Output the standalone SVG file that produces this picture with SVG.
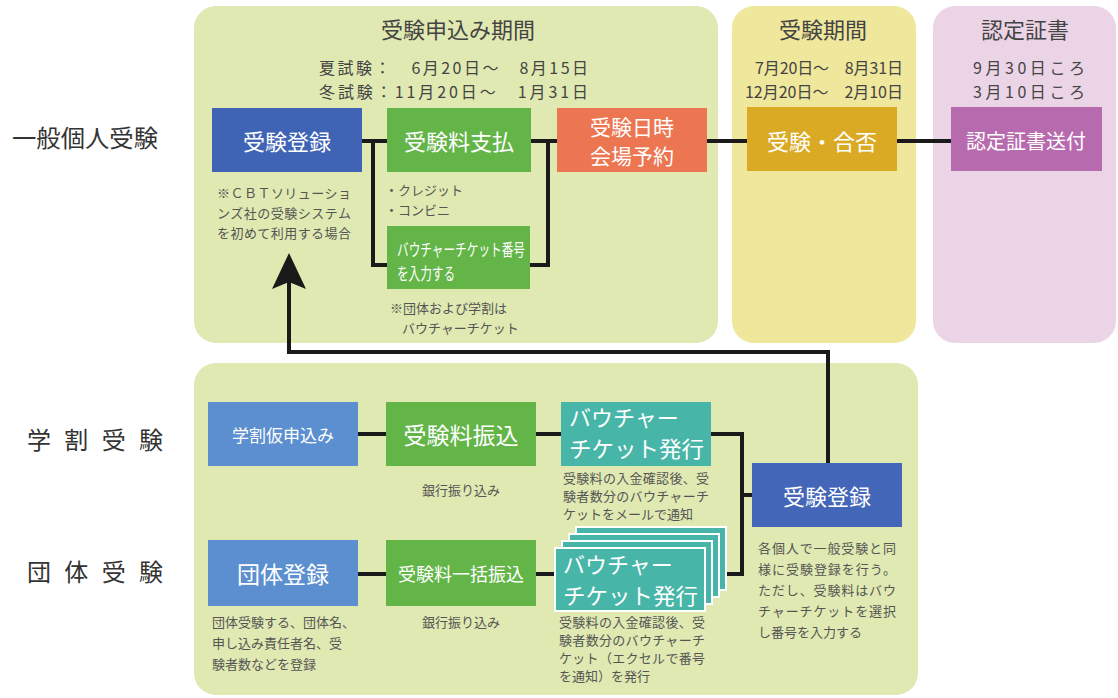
<svg xmlns="http://www.w3.org/2000/svg" width="1118" height="698" viewBox="0 0 1118 698">
<style>
text{font-family:"Noto Sans CJK JP","Noto Sans",sans-serif}
.lbl{font-size:24px;fill:#333}
.hd{font-size:22px;fill:#444;text-anchor:middle}
.dt{font-size:16px;fill:#444}
.nt{fill:#fff;text-anchor:middle;dominant-baseline:central}
.note{font-size:13px;fill:#555}
.ln{fill:none;stroke:#1a1a1a;stroke-width:4}
.stk{stroke:#fff;stroke-width:2}
</style>
<rect width="1118" height="698" fill="#fff"/>
<!-- panels -->
<rect x="194" y="6" width="524" height="337" rx="22" fill="#dfe9b1"/>
<rect x="732" y="6" width="184" height="337" rx="22" fill="#efe79b"/>
<rect x="933" y="6" width="183" height="337" rx="22" fill="#ecd4e7"/>
<rect x="194" y="363" width="724" height="332" rx="22" fill="#dfe9b1"/>
<!-- row labels -->
<text class="lbl" x="12" y="147" textLength="146" lengthAdjust="spacingAndGlyphs">一般個人受験</text>
<text class="lbl" x="27" y="449" textLength="136" lengthAdjust="spacing">学 割 受 験</text>
<text class="lbl" x="27" y="581" textLength="136" lengthAdjust="spacing">団 体 受 験</text>
<!-- headers -->
<text class="hd" x="458" y="38">受験申込み期間</text>
<text class="dt" x="319" y="74" textLength="269" lengthAdjust="spacing">夏試験：　6月20日～　8月15日</text>
<text class="dt" x="319" y="98" textLength="269" lengthAdjust="spacing">冬試験：11月20日～　1月31日</text>
<text class="hd" x="823" y="38">受験期間</text>
<text class="dt" x="755" y="74" textLength="148" lengthAdjust="spacing">7月20日～　8月31日</text>
<text class="dt" x="745" y="98" textLength="158" lengthAdjust="spacing">12月20日～　2月10日</text>
<text class="hd" x="1025" y="38">認定証書</text>
<text class="dt" x="973" y="74" textLength="112" lengthAdjust="spacing">9月30日ころ</text>
<text class="dt" x="973" y="98" textLength="112" lengthAdjust="spacing">3月10日ころ</text>
<!-- connectors -->
<g id="connectors">
<path class="ln" d="M362 141 H388 M373 141 V265 H388 M530 141 H558 M548 141 V265 H530"/>
<path class="ln" d="M706 141 H748 M896 141 H952"/>
<path class="ln" d="M357 434 H387 M535 434 H562 M710 434 H742 V574 H724 M742 495 H753"/>
<path class="ln" d="M357 574 H387 M535 574 H556"/>
<path class="ln" d="M828 464 V352 H289 V282"/>
<path d="M289 253 L306 289 L289 282 L272 289 Z" fill="#1a1a1a"/>
</g>
<!-- top row nodes -->
<g id="n-reg1"><rect x="212" y="108" width="150" height="64" fill="#4064b5"/><text class="nt" x="287" y="140" font-size="22">受験登録</text></g>
<g id="n-pay"><rect x="387" y="108" width="144" height="64" fill="#63b548"/><text class="nt" x="459" y="140" font-size="22">受験料支払</text></g>
<g id="n-voucher-in"><rect x="387" y="226" width="143" height="63" fill="#63b548"/>
<text x="397" y="256" font-size="17" fill="#fff" textLength="128" lengthAdjust="spacingAndGlyphs">バウチャーチケット番号</text>
<text x="397" y="280" font-size="17" fill="#fff" textLength="58" lengthAdjust="spacingAndGlyphs">を入力する</text></g>
<g id="n-reserve"><rect x="557" y="108" width="150" height="64" fill="#ec7651"/><text class="nt" x="632" y="126" font-size="21">受験日時</text><text class="nt" x="632" y="155" font-size="21">会場予約</text></g>
<g id="n-exam"><rect x="747" y="107" width="150" height="64" fill="#daaa24"/><text class="nt" x="822" y="140" font-size="22">受験・合否</text></g>
<g id="n-cert"><rect x="951" y="107" width="151" height="64" fill="#b86aae"/><text class="nt" x="1026" y="140" font-size="20">認定証書送付</text></g>
<!-- top notes -->
<g id="notes-top">
<text class="note" x="217" y="198" textLength="134" lengthAdjust="spacing">※ＣＢＴソリューショ</text>
<text class="note" x="217" y="218" textLength="134" lengthAdjust="spacing">ンズ社の受験システム</text>
<text class="note" x="217" y="238" textLength="134" lengthAdjust="spacing">を初めて利用する場合</text>
<text class="note" x="385" y="195">・クレジット</text>
<text class="note" x="385" y="215">・コンビニ</text>
<text class="note" x="390" y="313">※団体および学割は</text>
<text class="note" x="402" y="333">バウチャーチケット</text>
</g>
<!-- student row -->
<g id="n-student"><rect x="208" y="402" width="150" height="64" fill="#5b8fd0"/><text class="nt" x="283" y="434" font-size="17">学割仮申込み</text></g>
<g id="n-transfer"><rect x="386" y="402" width="150" height="64" fill="#63b548"/><text class="nt" x="461" y="434" font-size="23">受験料振込</text></g>
<g id="n-ticket1"><rect x="561" y="402" width="150" height="64" fill="#47b5a7"/>
<text x="569" y="426" font-size="22" fill="#fff">バウチャー</text><text x="569" y="457" font-size="22" fill="#fff" textLength="135" lengthAdjust="spacingAndGlyphs">チケット発行</text></g>
<!-- group row -->
<g id="n-group"><rect x="208" y="540" width="150" height="66" fill="#5b8fd0"/><text class="nt" x="283" y="573" font-size="23">団体登録</text></g>
<g id="n-bulk"><rect x="386" y="540" width="150" height="66" fill="#63b548"/><text class="nt" x="461" y="573" font-size="18">受験料一括振込</text></g>
<g id="n-ticket2">
<rect class="stk" x="576" y="527" width="150" height="63" fill="#47b5a7"/>
<rect class="stk" x="569" y="534" width="150" height="63" fill="#47b5a7"/>
<rect class="stk" x="562" y="541" width="150" height="63" fill="#47b5a7"/>
<rect class="stk" x="555" y="548" width="150" height="63" fill="#47b5a7"/>
<text x="563" y="573" font-size="22" fill="#fff">バウチャー</text><text x="563" y="604" font-size="22" fill="#fff" textLength="135" lengthAdjust="spacingAndGlyphs">チケット発行</text></g>
<g id="n-reg2"><rect x="752" y="463" width="150" height="64" fill="#4466b8"/><text class="nt" x="827" y="495" font-size="22">受験登録</text></g>
<!-- lower notes -->
<g id="notes-bottom">
<text class="note" x="461" y="495" text-anchor="middle">銀行振り込み</text>
<text class="note" x="563" y="483" textLength="146" lengthAdjust="spacing">受験料の入金確認後、受</text>
<text class="note" x="563" y="501" textLength="146" lengthAdjust="spacing">験者数分のバウチャーチ</text>
<text class="note" x="563" y="519">ケットをメールで通知</text>
<text class="note" x="212" y="627" textLength="143" lengthAdjust="spacing">団体受験する、団体名、</text>
<text class="note" x="212" y="648">申し込み責任者名、受</text>
<text class="note" x="212" y="669">験者数などを登録</text>
<text class="note" x="461" y="627" text-anchor="middle">銀行振り込み</text>
<text class="note" x="559" y="627" textLength="146" lengthAdjust="spacing">受験料の入金確認後、受</text>
<text class="note" x="559" y="645" textLength="146" lengthAdjust="spacing">験者数分のバウチャーチ</text>
<text class="note" x="559" y="663" textLength="146" lengthAdjust="spacing">ケット（エクセルで番号</text>
<text class="note" x="559" y="681">を通知）を発行</text>
<text class="note" x="758" y="553" textLength="138" lengthAdjust="spacing">各個人で一般受験と同</text>
<text class="note" x="758" y="574" textLength="138" lengthAdjust="spacing">様に受験登録を行う。</text>
<text class="note" x="758" y="595" textLength="138" lengthAdjust="spacing">ただし、受験料はバウ</text>
<text class="note" x="758" y="616" textLength="138" lengthAdjust="spacing">チャーチケットを選択</text>
<text class="note" x="758" y="637">し番号を入力する</text>
</g>
</svg>
